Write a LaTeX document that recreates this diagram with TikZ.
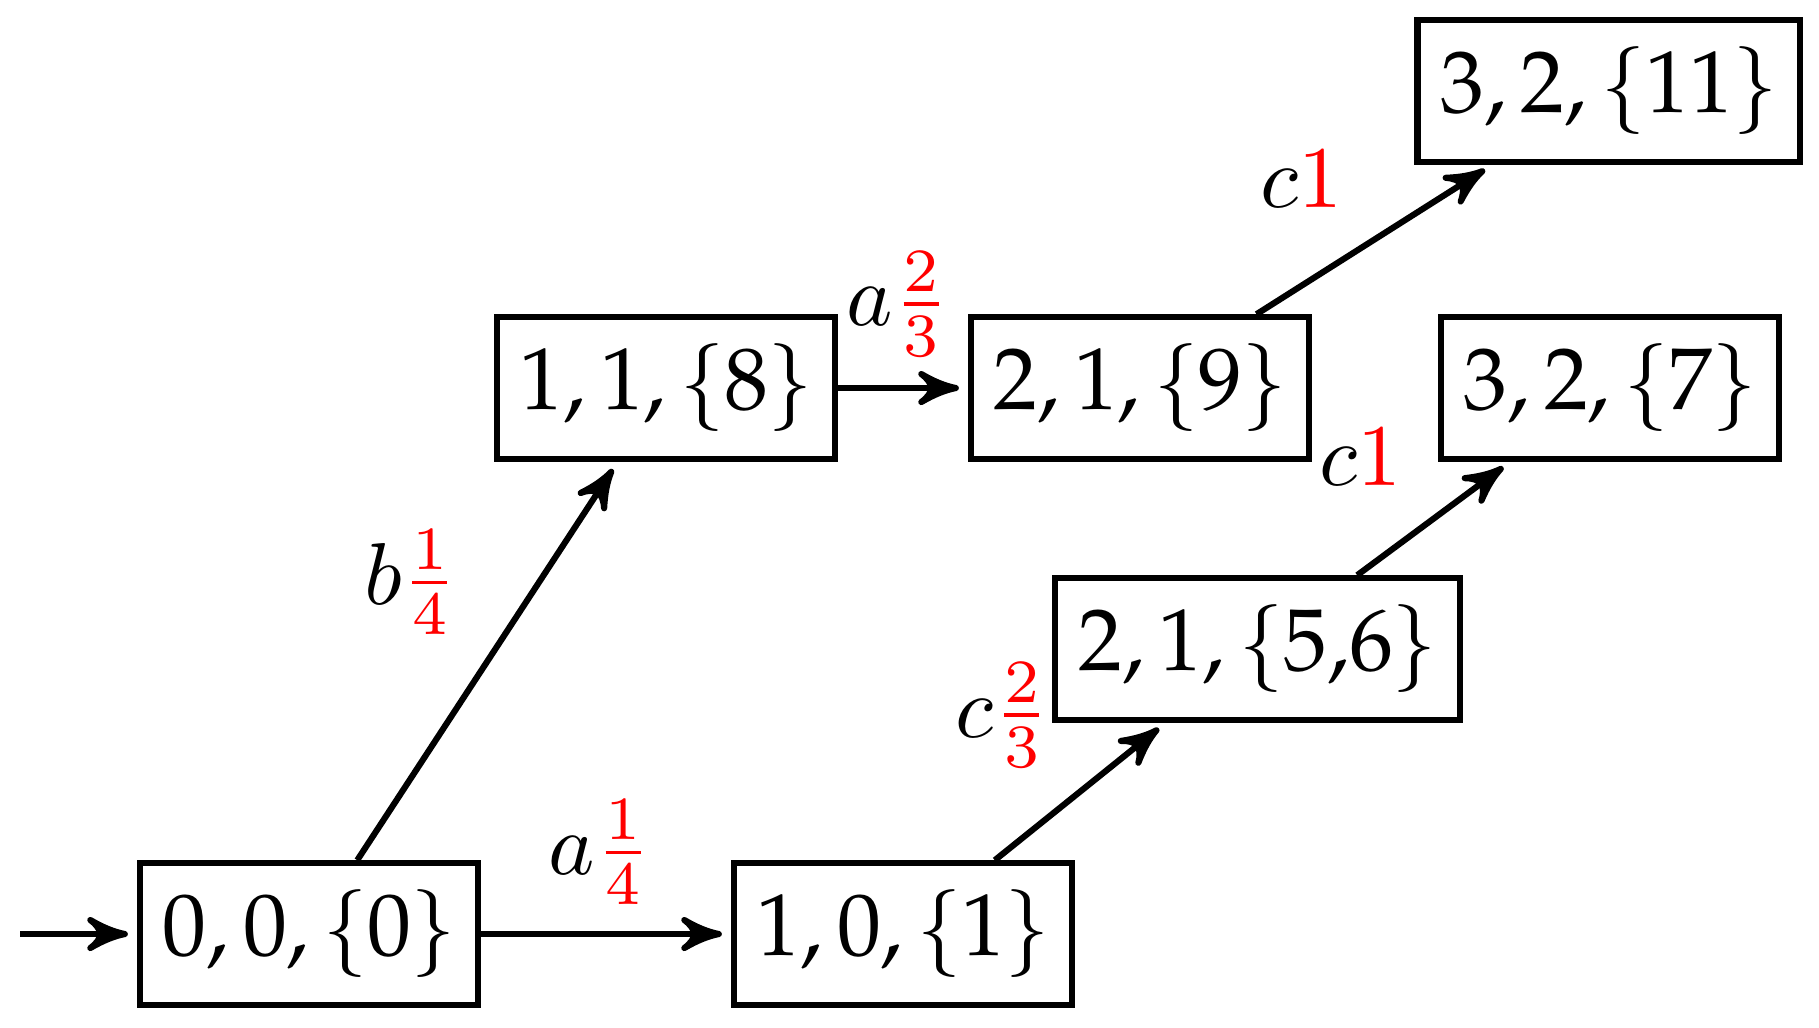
\documentclass[tikz,border=0pt]{standalone}
\usepackage[OT1]{fontenc}
\usepackage{palatino}
\usepackage{xcolor}
\usepackage{tikz}
\usetikzlibrary{arrows}
\usetikzlibrary{positioning}

\begin{document}
\begin{tikzpicture}
    \useasboundingbox (0,0) rectangle (7.276,-4.108);
    \begin{scope}[every node/.style={rectangle,draw,line width=0.7pt,minimum height=0.566cm,inner xsep=2.6pt,inner ysep=2pt}]
    \node (q0) at (1.236,-3.736) {0,\,0,\,\{0\}};
    \node (q1) at (3.612,-3.736) {1,\,0,\,\{1\}};
    \node (q2) at (2.664,-1.552) {1,\,1,\,\{8\}};
    \node (q3) at (4.56,-1.552) {2,\,1,\,\{9\}};
    \node (q4) at (6.435,-0.364) {3,\,2,\,\{11\}};
    \node (q5) at (6.44,-1.552) {3,\,2,\,\{7\}};
    \node (q6) at (5.03,-2.596) {2,\,1,\,\{5,6\}};
    \end{scope}
    \begin{scope}[every node/.style={inner sep=0pt}]
    \node (lb) at (1.644,-2.33) {$b\textcolor{red}{\frac{1}{4}}$};
    \node (la) at (2.40,-3.41) {$a\textcolor{red}{\frac{1}{4}}$};
    \node (laa) at (3.592,-1.215) {$a\textcolor{red}{\frac{2}{3}}$};
    \node (lc) at (4.01,-2.86) {$c\textcolor{red}{\frac{2}{3}}$};
    \node (lcc) at (5.44,-1.83) {$c\textcolor{red}{1}$};
    \node (lccc) at (5.205,-0.715) {$c\textcolor{red}{1}$};
    \end{scope}
    \coordinate (start) at (0.08,-3.736);
    \begin{scope}[every edge/.style={draw=black,line width=0.7pt,->,>=stealth',shorten >=1pt}]
    \path (start) edge (q0);
    \path (q0) edge (q1);
    \path (q0) edge (q2);
    \path (q2) edge (q3);
    \path (q1) edge (q6);
    \path (q6) edge (q5);
    \path (q3) edge (q4);
    \end{scope}
\end{tikzpicture}
\end{document}
